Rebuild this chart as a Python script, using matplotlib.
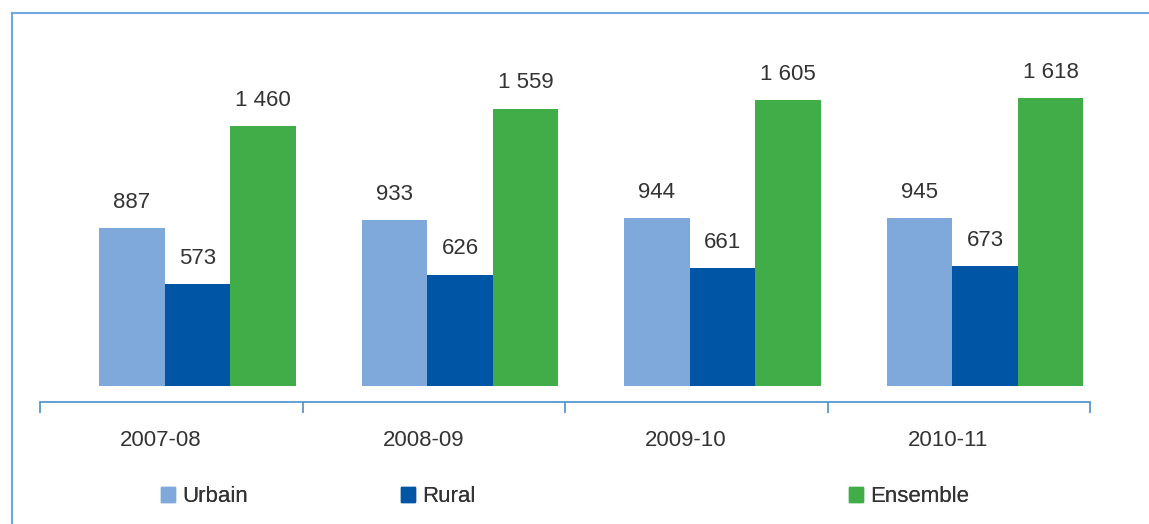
import matplotlib.pyplot as plt
import matplotlib.patches as mpatches
from matplotlib.lines import Line2D
import numpy as np

years = ['2007-08', '2008-09', '2009-10', '2010-11']
urbain = [887, 933, 944, 945]
rural = [573, 626, 661, 673]
ensemble = [1460, 1559, 1605, 1618]

series = [('Urbain', urbain, '#7FA9DA'),
          ('Rural', rural, '#0055A5'),
          ('Ensemble', ensemble, '#41AD49')]

plt.rcParams['font.family'] = ['Liberation Sans', 'DejaVu Sans']
txt = '#333333'
axis_blue = '#4A90C8'

fig = plt.figure(figsize=(11.49, 5.24), dpi=100)
W, H = 1149, 524
ax = fig.add_axes([40 / W, 1 - 402 / H, 1050 / W, 389 / H])

x = np.arange(len(years))
w = 0.25
shift = 0.1  # bars sit a bit right of the category centre
for i, (name, vals, col) in enumerate(series):
    pos = x + (i - 1) * w + shift
    ax.bar(pos, vals, width=w, color=col, label=name)
    for px, v in zip(pos, vals):
        s = f'{v:,}'.replace(',', ' ')
        ax.annotate(s, (px, v), xytext=(0, 11), textcoords='offset points',
                    ha='center', va='bottom', fontsize=16, color=txt)

ax.set_xlim(-0.5, len(years) - 0.5)
ax.set_ylim(-90, 2096)
for s in ['top', 'right', 'left']:
    ax.spines[s].set_visible(False)
ax.spines['bottom'].set_color(axis_blue)
ax.spines['bottom'].set_linewidth(1.2)
ax.set_yticks([])
ax.set_xticks(np.arange(len(years) + 1) - 0.5)
ax.set_xticklabels([])
ax.tick_params(axis='x', which='major', direction='out', length=8,
               color=axis_blue, width=1.2)
ax.set_xticks(x - 0.04, minor=True)
ax.set_xticklabels(years, minor=True, fontsize=16, color=txt)
ax.tick_params(axis='x', which='minor', length=0, pad=20)

# legend entries
leg_x = [152 / W, 392 / W, 840 / W]
for (name, vals, col), lx in zip(series, leg_x):
    h = mpatches.Patch(color=col, label=name)
    lg = fig.legend(handles=[h], loc='center left', bbox_to_anchor=(lx, 1 - 497 / H),
                    frameon=False, fontsize=16, handlelength=0.65, handleheight=0.65,
                    handletextpad=0.3, borderaxespad=0)
    for t in lg.get_texts():
        t.set_color(txt)
    fig.add_artist(lg)

# outer frame
fcol = '#6FA8DC'
fig.add_artist(Line2D([12 / W, 12 / W], [0, 1 - 13 / H], color=fcol, lw=1.5,
                      transform=fig.transFigure))
fig.add_artist(Line2D([12 / W, 1], [1 - 13 / H, 1 - 13 / H], color=fcol, lw=1.5,
                      transform=fig.transFigure))

plt.savefig('out.png', dpi=100)
